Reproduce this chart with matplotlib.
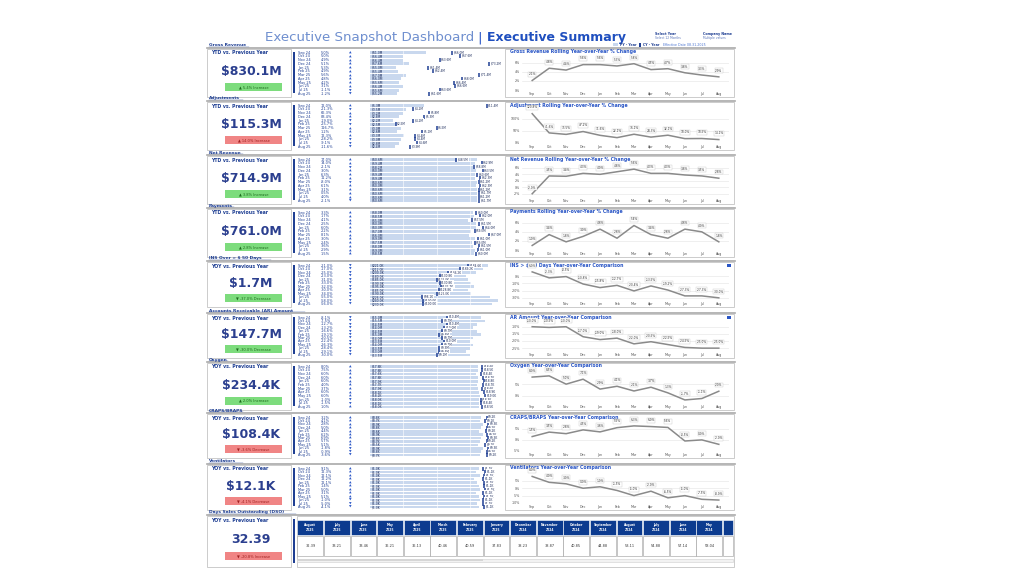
import matplotlib
matplotlib.use("Agg")
import matplotlib.pyplot as plt
from matplotlib.patches import Rectangle

plt.rcParams['font.family'] = ['DejaVu Sans']
plt.rcParams['text.parse_math'] = False

# ---------------- DATA ----------------
months = ["Sep 24", "Oct 24", "Nov 24", "Dec 24", "Jan 25", "Feb 25",
          "Mar 25", "Apr 25", "May 25", "Jun 25", "Jul 25", "Aug 25"]
trend_months = ["Sep", "Oct", "Nov", "Dec", "Jan", "Feb", "Mar", "Apr", "May", "Jun", "Jul", "Aug"]

section_names = ["Gross Revenue", "Adjustments", "Net Revenue", "Payments", "INS Over > $ 50 Days",
                 "Accounts Receivable (AR) Amount", "Oxygen", "CRAPS/BRAPS", "Ventilators",
                 "Days Sales Outstanding (DSO)"]
chart_titles = ["Gross Revenue Rolling Year-over-Year % Change",
                "Adjustment Rolling Year-over-Year % Change",
                "Net Revenue Rolling Year-over-Year % Change",
                "Payments Rolling Year-over-Year % Change",
                "INS > $ 50 Days Year-over-Year Comparison",
                "AR Amount Year-over-Year Comparison",
                "Oxygen Year-over-Year Comparison",
                "CRAPS/BRAPS Year-over-Year Comparison",
                "Ventilators Year-over-Year Comparison"]

kpi_labels = ["YTD vs. Previous Year", "YTD vs. Previous Year", "YTD vs. Previous Year",
              "YTD vs. Previous Year", "YOY vs. Previous Year", "YOY vs. Previous Year",
              "YOY vs. Previous Year", "YOY vs. Previous Year", "YOY vs. Previous Year",
              "YOY vs. Previous Year"]
kpi_values = ["$830.1M", "$115.3M", "$714.9M", "$761.0M", "$1.7M", "$147.7M",
              "$234.4K", "$108.4K", "$12.1K", "32.39"]
kpi_badges = ["▲ 5.4% Increase", "▲ 14.0% Increase", "▲ 3.8% Increase", "▲ 2.8% Increase",
              "▼ -37.0% Decrease", "▼ -30.0% Decrease", "▲ 2.0% Increase", "▼ -3.6% Decrease",
              "▼ -4.1% Decrease", "▼ -20.8% Increase"]
kpi_good = [True, False, True, True, True, True, True, False, False, False]

# monthly % change column
gross_chg = [5.0, 5.0, 4.9, 5.1, 5.3, 4.9, 5.6, 4.8, 4.2, 3.1, -1.1, -1.2]
adj_chg = [12.0, -21.3, 66.3, 83.4, -19.0, -25.7, 116.7, 1.2, 12.3, -28.2, -9.1, -11.6]
net_chg = [17.0, 14.0, -2.1, 3.0, 6.3, 11.2, -8.0, 6.1, 3.1, 0.5, 4.0, -2.1]
pay_chg = [3.3, 1.7, 4.1, 2.5, 6.0, 2.2, 8.1, 3.0, 2.4, 3.6, 2.9, 1.5]
ins_chg = [-21.0, -17.0, -25.0, -23.0, -31.0, -33.0, -32.0, -30.0, -34.0, -55.0, -58.0, -56.0]
ar_chg = [-8.1, -7.5, -12.7, -13.2, -16.6, -19.1, -20.5, -22.4, -26.3, -28.4, -29.1, -30.0]
oxy_chg = [8.0, 7.5, 6.0, 6.0, 6.0, 4.0, 3.7, 6.0, 6.0, -1.0, -1.5, 1.0]
craps_chg = [3.2, 4.1, 2.8, 5.0, 4.4, 6.2, 6.9, 5.7, 5.1, -1.8, -0.9, -3.6]
vent_chg = [9.1, 12.3, 12.1, 12.2, 12.1, 1.4, 5.0, 3.1, 5.1, -1.0, -5.0, -4.1]

# bullet table: bar (prior) and marker (current) values
gross_bar = [61.0, 56.4, 56.4, 57.6, 55.0, 55.4, 57.0, 56.0, 55.6, 56.4, 55.6, 55.2]
gross_mark = [66.0, 67.6, 63.6, 73.2, 61.4, 62.4, 71.4, 68.0, 66.4, 66.6, 63.6, 61.6]
adj_bar = [5.3, 3.5, 3.2, 2.8, 2.2, 2.5, 3.0, 2.6, 3.3, 3.0, 2.8, 2.4]
adj_mark = [11.4, 4.2, 5.8, 5.3, 4.2, 2.5, 6.5, 5.1, 4.4, 4.4, 4.6, 3.9]
net_bar = [60.6, 59.4, 58.2, 60.0, 59.4, 59.4, 60.6, 60.0, 60.6, 60.6, 60.6, 60.6]
net_mark = [48.5, 62.9, 58.8, 63.5, 60.6, 62.3, 61.2, 62.3, 61.2, 61.7, 61.2, 61.7]
pay_bar = [58.0, 58.5, 55.0, 60.0, 60.0, 57.0, 56.0, 59.0, 57.5, 58.0, 59.0, 58.5]
pay_mark = [60.0, 62.0, 57.5, 61.5, 64.0, 59.0, 67.0, 61.0, 59.0, 61.5, 61.0, 60.0]
ins_bar = [221, 212, 200, 180, 185, 190, 195, 185, 190, 226, 240, 230]
ins_mark = [184.6, 169.2, 146.2, 130.8, 125.0, 130.8, 132.7, 128.8, 125.0, 98.1, 100.0, 100.0]
ar_bar = [15.0, 15.5, 14.5, 14.0, 14.5, 15.0, 14.0, 13.5, 14.0, 13.5, 13.0, 13.5]
ar_mark = [10.4, 9.7, 10.4, 10.0, 9.7, 9.4, 9.7, 10.0, 9.7, 9.3, 9.4, 9.1]
oxy_bar = [17.8, 17.8, 17.6, 17.8, 17.9, 17.7, 17.9, 18.1, 18.2, 18.0, 18.1, 18.0]
oxy_mark = [18.6, 18.5, 18.4, 18.7, 18.8, 18.7, 18.6, 18.9, 19.0, 18.3, 18.4, 18.5]
craps_bar = [8.8, 8.7, 8.9, 8.8, 8.6, 8.9, 8.8, 8.7, 8.5, 8.9, 8.8, 8.7]
craps_mark = [9.2, 9.1, 9.3, 9.2, 9.15, 9.25, 9.3, 9.2, 9.1, 9.3, 9.2, 9.25]
vent_bar = [1.02, 1.00, 1.03, 0.98, 1.01, 1.02, 1.03, 1.00, 1.02, 1.03, 1.01, 1.02]
vent_mark = [1.06, 1.08, 1.07, 1.06, 1.07, 1.07, 1.08, 1.06, 1.07, 1.06, 1.06, 1.07]

# rolling trend lines (%)
gross_trend = [2.1, 4.8, 4.4, 5.6, 5.6, 5.3, 5.8, 4.5, 4.7, 3.8, 3.3, 2.9]
adj_trend = [120.8, 41.6, 35.5, 47.2, 31.6, 22.1, 36.1, 24.3, 32.1, 18.0, 18.5, 14.1]
net_trend = [-2.0, 3.5, 3.4, 4.3, 4.0, 4.8, 5.6, 4.3, 4.3, 3.8, 3.5, 2.8]
pay_trend = [1.0, 3.4, 1.8, 3.0, 4.6, 2.6, 5.4, 3.4, 2.6, 4.6, 4.0, 1.8]
ins_trend = [6.0, -2.3, -0.5, -10.8, -15.8, -12.7, -20.4, -13.5, -19.2, -27.3, -27.3, -30.0]
ar_trend = [-10.0, -10.5, -10.0, -17.0, -19.0, -18.0, -22.0, -20.5, -22.5, -24.5, -25.0, -25.0]
oxy_trend = [8.0, 8.5, 5.0, 7.1, 2.9, 4.1, 2.1, 3.7, 1.3, -1.7, -1.1, 2.0]
craps_trend = [1.5, 3.5, 2.8, 4.5, 3.6, 5.5, 6.3, 6.0, 5.6, -0.5, 0.0, -2.0]
vent_trend = [8.0, 4.0, 3.0, 0.0, 1.0, -1.5, -5.0, -2.0, -6.5, -5.0, -7.5, -8.0]

dso_months = ["August 2025", "July 2025", "June 2025", "May 2025", "April 2025", "March 2025",
              "February 2025", "January 2025", "December 2024", "November 2024", "October 2024",
              "September 2024", "August 2024", "July 2024", "June 2024", "May 2024", "April 2024"]
dso_values = [32.39, 33.21, 33.46, 36.21, 36.13, 40.46, 40.59, 37.83, 38.23, 38.87, 40.85,
              44.88, 53.11, 54.88, 57.14, 58.04, 58.90]

# ---------------- STYLE / LAYOUT ----------------
W, H = 1024, 576
DARK = "#1f3f93"
BLUE = "#2a56c6"
BARC = "#c9d8ee"
GRAY = "#c4c4c4"
row_tops = [48, 101, 155, 208, 261, 313, 362, 413, 464]
row_h = [49, 49, 49, 49, 46, 45, 48, 45, 46]
dso_top, dso_h = 515, 52

fig = plt.figure(figsize=(W / 100, H / 100), dpi=100)
fig.patch.set_facecolor("white")
ov = fig.add_axes([0, 0, 1, 1])
ov.set_xlim(0, W)
ov.set_ylim(H, 0)
ov.axis("off")
ov.set_zorder(0)


def px_axes(x0, y0, w, h):
    a = fig.add_axes([x0 / W, 1 - (y0 + h) / H, w / W, h / H])
    a.set_zorder(2)
    a.patch.set_alpha(0)
    return a


def rect(x, y, w, h, fc="none", ec=GRAY, lw=0.6, z=1):
    ov.add_patch(Rectangle((x, y), w, h, facecolor=fc, edgecolor=ec, lw=lw, zorder=z))


# ---- header ----
ov.text(474, 38, "Executive Snapshot Dashboard", ha="right", va="center", fontsize=9.6,
        color="#6f8fcf")
ov.text(480, 38, "|", ha="center", va="center", fontsize=9.6, color="#2a56c6")
ov.text(487, 38, "Executive Summary", ha="left", va="center", fontsize=9,
        color="#1f4fbf", fontweight="bold")
ov.text(655, 34, "Select Year", fontsize=2.4, color=DARK, va="center", fontweight="bold")
ov.text(655, 38, "Select 12 Months", fontsize=2.2, color="#5a74b8", va="center")
ov.text(703, 34, "Company Name", fontsize=2.4, color=DARK, va="center", fontweight="bold")
ov.text(703, 38, "Multiple values", fontsize=2.2, color="#5a74b8", va="center")
ov.add_patch(Rectangle((613, 43), 5, 3, facecolor="#c9d8ee", edgecolor="none"))
ov.text(620, 44.5, "PY - Year", fontsize=2.3, color=DARK, va="center", fontweight="bold")
ov.add_patch(Rectangle((639, 42.5), 1.5, 4, facecolor=DARK, edgecolor="none"))
ov.text(643, 44.5, "CY - Year", fontsize=2.3, color=DARK, va="center", fontweight="bold")
ov.text(663, 44.5, "Effective Date 08.31.2025", fontsize=2.3, color="#4a74d0", va="center")


def draw_kpi(i, top, h):
    ov.text(209, top - 2.5, section_names[i], fontsize=3.2, color=DARK, va="center",
            fontweight="bold")
    ov.plot([209, 209 + 3.1 * len(section_names[i])], [top - 0.8, top - 0.8], color=DARK, lw=0.3)
    ov.plot([207, 735], [top, top], color="#a9a9a9", lw=1.2)
    rect(207, top + 0.5, 84, h - 1)
    ov.text(211, top + 5, kpi_labels[i], fontsize=3.3, color=DARK, va="center",
            fontweight="bold")
    ov.text(251, top + h * 0.48, kpi_values[i], fontsize=9, color="#2b3f8f",
            ha="center", va="center", fontweight="bold")
    fc = "#7ddc7d" if kpi_good[i] else "#f08585"
    tc = "#1e6b1e" if kpi_good[i] else "#a02020"
    ov.add_patch(Rectangle((225, top + h * 0.72), 57, 8, facecolor=fc, edgecolor="none"))
    ov.text(253.5, top + h * 0.72 + 4, kpi_badges[i], fontsize=2.6, color=tc,
            ha="center", va="center")
    ov.add_patch(Rectangle((292.5, top + 4), 2, h - 8, facecolor=DARK, edgecolor="none"))


def fmt_val(v, unit):
    if unit == "M":
        return "$%.1fM" % v
    return "$%.1fK" % v


def draw_table(top, h, chg, bars, marks, lo, hi, unit):
    n = len(months)
    step = (h - 4) / n
    for k in range(n):
        y = top + 2.8 + step * (k + 0.5)
        ov.text(298, y, months[k], fontsize=2.5, color=DARK, va="center")
        ov.text(321, y, "%.1f%%" % chg[k], fontsize=2.5, color=DARK, va="center")
        ov.text(350, y, "▲" if chg[k] >= 0 else "▼", fontsize=2.4, color=BLUE,
                va="center", ha="center")
    ba = px_axes(370, top + 2.8, 133, h - 4)
    ys = list(range(n))
    ba.barh(ys, [b - lo for b in bars], left=lo, height=0.78, color=BARC, zorder=1)
    ba.scatter(marks, ys, marker="|", s=9, color=DARK, linewidths=1.1, zorder=3)
    for k in range(n):
        ba.text(lo + (hi - lo) * 0.01, k, fmt_val(bars[k], unit), fontsize=2.2,
                color="#1a2a5a", va="center", zorder=4)
        ba.text(marks[k] + (hi - lo) * 0.012, k - 0.15, fmt_val(marks[k], unit), fontsize=2.1,
                color="#1a2a5a", va="center", zorder=4,
                bbox=dict(boxstyle="square,pad=0.1", fc="white", ec="none"))
    ba.set_xlim(lo, hi)
    ba.set_ylim(n - 0.5, -0.5)
    for gx in [lo + (hi - lo) * f for f in (0.25, 0.5, 0.75)]:
        ba.axvline(gx, color="white", lw=0.4, zorder=2)
    ba.axis("off")


def draw_trend(i, top, h, vals, yticks, ylim, icon=False):
    rect(505, top + 0.5, 229, h - 1)
    ov.text(510, top + 4, chart_titles[i], fontsize=3.3, color=BLUE, va="center",
            fontweight="bold")
    if icon:
        ov.add_patch(Rectangle((727, top + 2.5), 3.5, 3.5, facecolor=BLUE, edgecolor="none"))
    la = px_axes(522, top + 8, 207, h - 15)
    x = list(range(len(vals)))
    la.plot(x, vals, color="#8a8a8a", lw=1.1, zorder=3)
    for k, v in enumerate(vals):
        la.annotate("%.1f%%" % v, (k, v), xytext=(0, 3), textcoords="offset points",
                    ha="center", va="bottom", fontsize=2.1, color="#333333", zorder=4,
                    bbox=dict(boxstyle="square,pad=0.15", fc="white", ec="#bdbdbd", lw=0.25))
    la.set_xlim(-0.6, len(vals) - 0.4)
    la.set_ylim(*ylim)
    la.set_yticks(yticks)
    la.set_yticklabels(["%d%%" % t for t in yticks])
    la.set_xticks(x)
    la.set_xticklabels(trend_months)
    la.tick_params(axis="both", labelsize=2.3, length=0, pad=1.2, colors="#555555")
    la.grid(axis="y", color="#e3e3e3", lw=0.4)
    for s in la.spines.values():
        s.set_visible(False)


rows = [
    (gross_chg, gross_bar, gross_mark, 50, 76, "M", gross_trend, [0, 2, 4, 6], (0, 7.5)),
    (adj_chg, adj_bar, adj_mark, 0, 13, "M", adj_trend, [0, 50, 100], (0, 140)),
    (net_chg, net_bar, net_mark, 0, 75, "M", net_trend, [-2, 0, 2, 4, 6], (-3, 7.5)),
    (pay_chg, pay_bar, pay_mark, 0, 75, "M", pay_trend, [0, 2, 4, 6], (0, 7.5)),
    (ins_chg, ins_bar, ins_mark, 0, 250, "K", ins_trend, [-30, -20, -10, 0], (-33, 10)),
    (ar_chg, ar_bar, ar_mark, 0, 18, "M", ar_trend, [-25, -20, -15, -10], (-27, -6)),
    (oxy_chg, oxy_bar, oxy_mark, 0, 22, "K", oxy_trend, [0, 5], (-3, 11)),
    (craps_chg, craps_bar, craps_mark, 0, 10.5, "K", craps_trend, [-5, 0, 5], (-4, 8.5)),
    (vent_chg, vent_bar, vent_mark, 0, 1.25, "K", vent_trend, [-10, -5, 0, 5], (-10, 11)),
]

for i, (chg, bars, marks, lo, hi, unit, tr, yt, yl) in enumerate(rows):
    top, h = row_tops[i], row_h[i]
    draw_kpi(i, top, h)
    draw_table(top, h, chg, bars, marks, lo, hi, unit)
    draw_trend(i, top, h, tr, yt, yl, icon=(i in (4, 5)))

# ---- DSO row ----
draw_kpi(9, dso_top, dso_h)
rect(297, dso_top + 0.5, 437, dso_h - 1)
cw = 26.6
hx0 = 297
for k, (m, v) in enumerate(zip(dso_months, dso_values)):
    x = hx0 + k * cw
    w = min(cw, 733 - x)
    if w <= 0:
        break
    ov.add_patch(Rectangle((x + 0.4, dso_top + 5), w - 0.8, 15, facecolor="#0c3b8f",
                           edgecolor="white", lw=0.4, zorder=2))
    ov.add_patch(Rectangle((x + 0.4, dso_top + 21), w - 0.8, 20, facecolor="white",
                           edgecolor="#9a9a9a", lw=0.4, zorder=2))
    if w > cw * 0.8:
        ov.text(x + cw / 2, dso_top + 12.5, m.replace(" ", "\n"), fontsize=2.2, color="white",
                ha="center", va="center", fontweight="bold", zorder=3, linespacing=1.1)
        ov.text(x + cw / 2, dso_top + 31, "%.2f" % v, fontsize=2.5, color="#333333",
                ha="center", va="center", zorder=3)
ov.add_patch(Rectangle((297, dso_top + 43.5), 436, 3, facecolor="#f2f2f2",
                       edgecolor="#d0d0d0", lw=0.4, zorder=2))
ov.add_patch(Rectangle((298, dso_top + 44), 185, 2, facecolor="#d6d6d6",
                       edgecolor="none", zorder=3))

fig.savefig("out.png", dpi=100, facecolor="white")
